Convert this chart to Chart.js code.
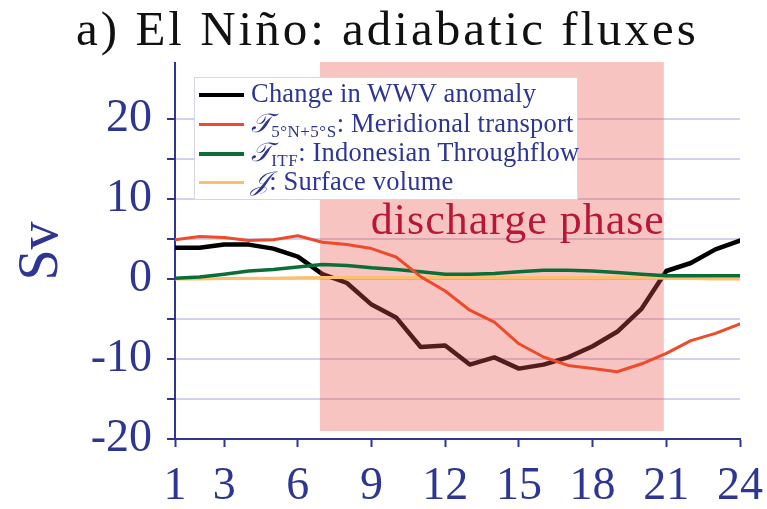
<!DOCTYPE html>
<html>
<head>
<meta charset="utf-8">
<script src="https://cdn.jsdelivr.net/npm/chart.js@4.4.0/dist/chart.umd.min.js"></script>
<style>
  html, body { margin: 0; padding: 0; background: #fff; }
  #wrap { position: relative; width: 767px; height: 509px; overflow: hidden; }
  #plot { position: absolute; left: 0; top: 0; }
  #title {
    position: absolute; left: 4px; top: 5px; width: 767px; text-align: center;
    font-family: "Liberation Serif", serif; font-size: 49px; line-height: 48px;
    letter-spacing: 3px; color: #111; white-space: nowrap;
  }
  #key {
    position: absolute; left: 194px; top: 77px; width: 384px; height: 123px;
    background: #fff; border: 1.5px solid #d6d6e8; box-sizing: border-box;
    font-family: "Liberation Serif", "DejaVu Serif", serif; font-size: 26.5px; color: #2e3592;
    letter-spacing: 0.2px;
  }
  .row { position: absolute; left: 4px; height: 29px; line-height: 29px; white-space: nowrap; }
  .swatch { display: inline-block; width: 45px; vertical-align: middle; margin-right: 7px; position: relative; top: -1px; }
  .row sub { font-size: 17px; vertical-align: -5px; line-height: 0; letter-spacing: 0.5px; }
  .cal { font-family: "DejaVu Serif", "DejaVu Sans", "Noto Sans", serif; font-style: italic; }
</style>
</head>
<body>
<div id="wrap">
  <canvas id="plot" width="767" height="509"></canvas>
  <div id="title">a) El Niño: adiabatic fluxes</div>
  <div id="key">
    <div class="row" style="top:1px"><span class="swatch" style="height:4px;background:#000"></span>Change in WWV anomaly</div>
    <div class="row" style="top:30px"><span class="swatch" style="height:3px;background:#ee4b2b"></span><span class="cal">𝒯</span><sub>5°N+5°S</sub>: Meridional transport</div>
    <div class="row" style="top:59px"><span class="swatch" style="height:4px;background:#0b6e37"></span><span class="cal">𝒯</span><sub>ITF</sub>: Indonesian Throughflow</div>
    <div class="row" style="top:88px"><span class="swatch" style="height:3px;background:#fdbf6f"></span><span class="cal">𝒥</span>: Surface volume</div>
  </div>
</div>
<script>
// Months after event onset
const months = [1, 2, 3, 4, 5, 6, 7, 8, 9, 10, 11, 12, 13, 14, 15, 16, 17, 18, 19, 20, 21, 22, 23, 24];

// Volume budget terms, Sv
const wwvChange  = [3.9, 3.9, 4.3, 4.3, 3.8, 2.8, 0.6, -0.5, -3.2, -4.8, -8.5, -8.3, -10.7, -9.8, -11.2, -10.7, -9.8, -8.4, -6.6, -3.7, 1.0, 2.0, 3.7, 4.8];
const meridional = [4.9, 5.3, 5.2, 4.8, 4.9, 5.4, 4.6, 4.3, 3.8, 2.75, 0.3, -1.5, -3.9, -5.4, -8.1, -9.75, -10.8, -11.2, -11.6, -10.6, -9.3, -7.7, -6.8, -5.6];
const throughflow = [0.1, 0.25, 0.6, 1.0, 1.2, 1.5, 1.8, 1.7, 1.4, 1.2, 0.9, 0.6, 0.6, 0.7, 0.9, 1.1, 1.1, 1.0, 0.8, 0.6, 0.4, 0.4, 0.4, 0.4];
const surfaceVol = [0.0, 0.0, 0.05, 0.1, 0.1, 0.15, 0.2, 0.2, 0.2, 0.2, 0.2, 0.2, 0.2, 0.2, 0.2, 0.2, 0.2, 0.2, 0.2, 0.15, 0.1, 0.05, 0.0, 0.0];

// Axis ticks
const monthTicks = [1, 3, 6, 9, 12, 15, 18, 21, 24];
const svTicks = [-20, -10, 0, 10, 20];

// Discharge phase window (months) and lower edge of its band (Sv)
const dischargeStart = 6.9;
const dischargeEnd = 20.9;
const dischargeFloor = -19;

const BLUE = '#2e3592';
const SERIF = '"Liberation Serif", serif';

const pts = arr => months.map((m, i) => ({ x: m, y: arr[i] }));

const shadePlugin = {
  id: 'dischargeShade',
  afterDatasetDraw(chart, args) {
    // band goes on top of the WWV curve, under the flux terms
    if (args.index !== 0) return;
    const { ctx, chartArea, scales: { x, y } } = chart;
    const l = x.getPixelForValue(dischargeStart);
    const r = x.getPixelForValue(dischargeEnd);
    const b = y.getPixelForValue(dischargeFloor);
    ctx.save();
    ctx.fillStyle = 'rgba(236, 86, 76, 0.35)';
    ctx.fillRect(l, chartArea.top - 1, r - l, b - chartArea.top + 1);
    ctx.restore();
  },
  afterDatasetsDraw(chart) {
    const { ctx, scales: { x, y } } = chart;
    ctx.save();
    ctx.font = '44px ' + SERIF;
    ctx.letterSpacing = '1px';
    ctx.fillStyle = '#b8173c';
    ctx.textAlign = 'right';
    ctx.textBaseline = 'alphabetic';
    ctx.fillText('discharge phase', x.getPixelForValue(dischargeEnd) + 1, y.getPixelForValue(5.6));
    ctx.restore();
  }
};

new Chart(document.getElementById('plot'), {
  type: 'line',
  data: {
    datasets: [
      { label: 'Change in WWV anomaly', data: pts(wwvChange), borderColor: '#000', borderWidth: 4.5, order: 1 },
      { label: 'Meridional transport', data: pts(meridional), borderColor: '#ee4b2b', borderWidth: 3, order: 0 },
      { label: 'Indonesian Throughflow', data: pts(throughflow), borderColor: '#0b6e37', borderWidth: 3.5, order: 0 },
      { label: 'Surface volume', data: pts(surfaceVol), borderColor: '#fdbf6f', borderWidth: 3, order: 0 }
    ]
  },
  options: {
    responsive: false,
    animation: false,
    devicePixelRatio: 1,
    layout: { padding: { left: 0, top: 63, right: 27, bottom: 0 } },
    elements: {
      point: { radius: 0 },
      line: { tension: 0, borderJoinStyle: 'round', borderCapStyle: 'round', fill: false }
    },
    plugins: { legend: { display: false }, tooltip: { enabled: false }, title: { display: false } },
    scales: {
      x: {
        type: 'linear', min: 1, max: 24,
        afterBuildTicks: s => { s.ticks = monthTicks.map(v => ({ value: v })); },
        afterFit: s => { s.height = 70; s.paddingLeft = 0; s.paddingRight = 0; },
        ticks: { color: BLUE, font: { family: SERIF, size: 46 }, padding: 12, autoSkip: false, maxRotation: 0 },
        grid: { drawOnChartArea: false, tickColor: BLUE, tickLength: 8, tickWidth: 2 },
        border: { color: BLUE, width: 2 }
      },
      y: {
        min: -20, max: 27,
        afterBuildTicks: s => {
          s.ticks = s.ticks.filter(t => Number.isInteger(t.value) && t.value % 5 === 0);
        },
        afterFit: s => { s.width = 175; },
        ticks: {
          stepSize: 5, autoSkip: false, color: BLUE, font: { family: SERIF, size: 46 }, padding: 15,
          callback: v => (svTicks.includes(v) ? String(v) : '')
        },
        grid: { color: '#d0d1ec', lineWidth: 2, tickColor: BLUE, tickLength: 8, tickWidth: 2 },
        border: { color: BLUE, width: 2 },
        title: { display: true, text: 'Sv', color: BLUE, font: { family: SERIF, size: 56 }, padding: { top: 9, bottom: 0 } }
      }
    }
  },
  plugins: [shadePlugin]
});
</script>
</body>
</html>
